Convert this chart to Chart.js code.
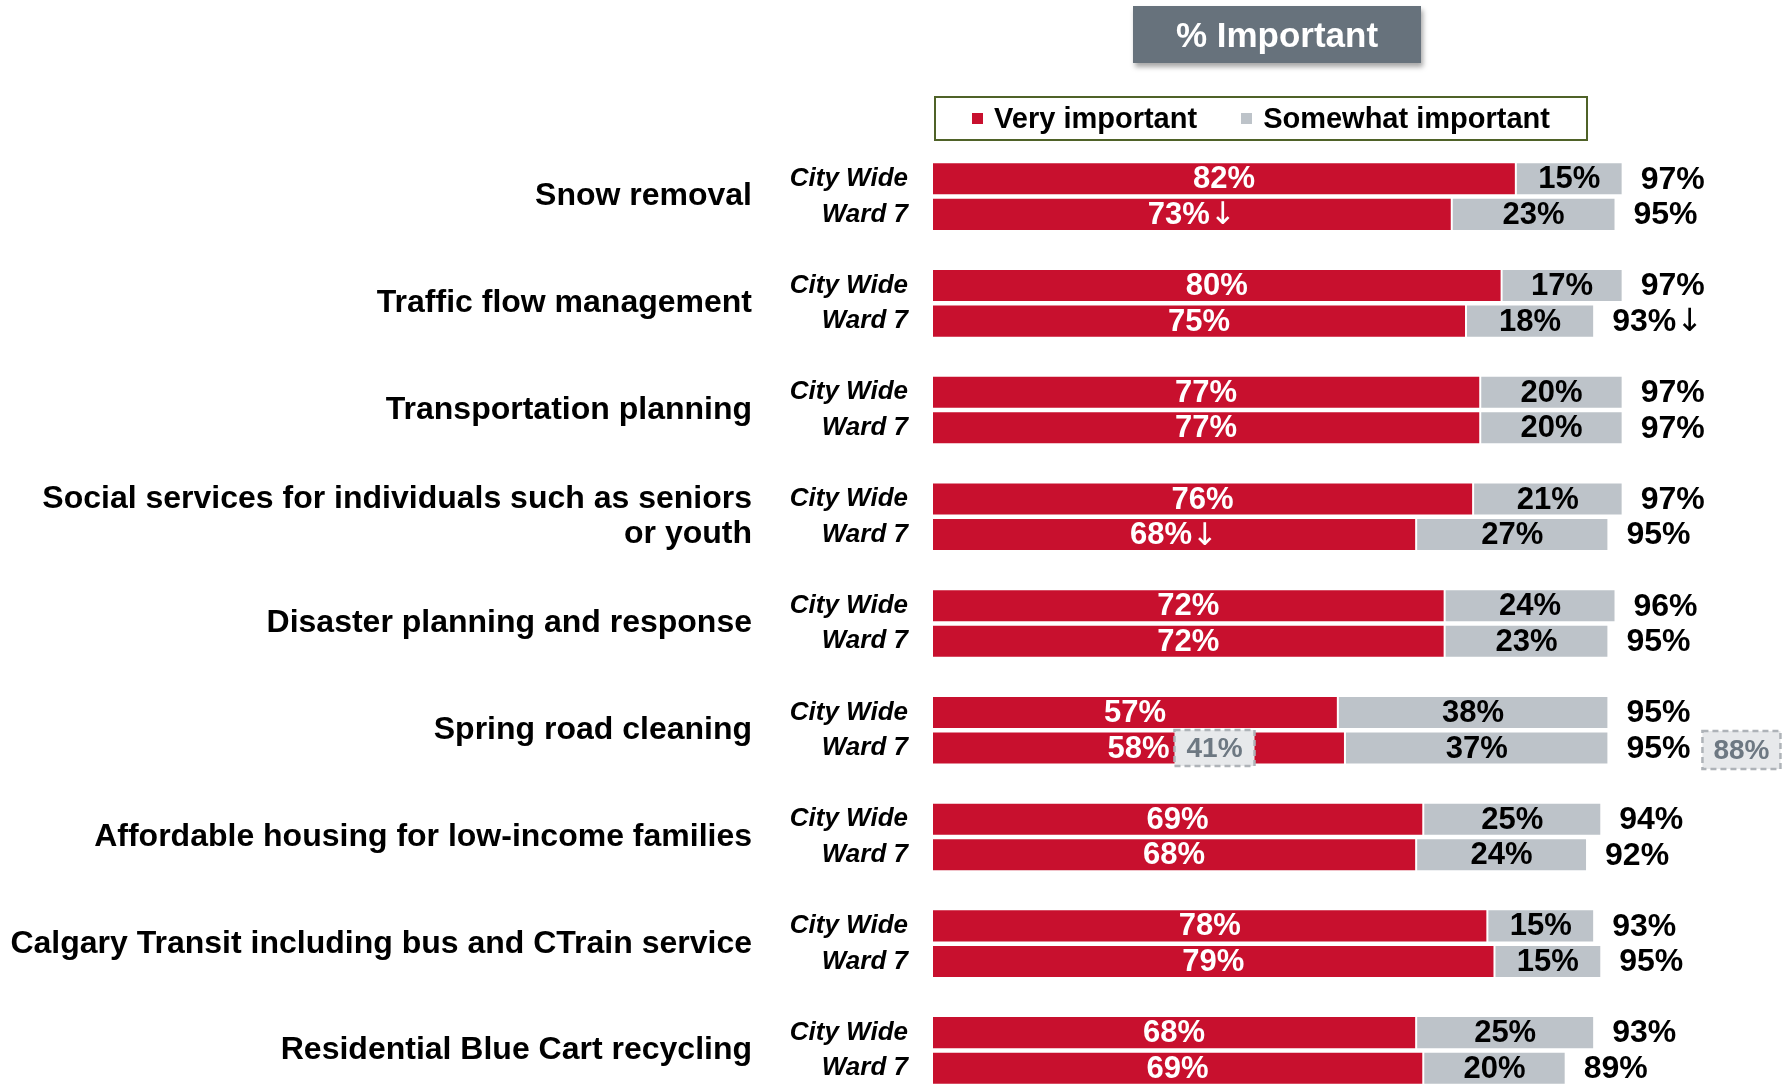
<!DOCTYPE html>
<html>
<head>
<meta charset="utf-8">
<script src="https://cdn.jsdelivr.net/npm/chart.js@4.4.1/dist/chart.umd.min.js"></script>
<style>
  body { margin: 0; background: #fff; font-family: "Liberation Sans", Arial, sans-serif; }
  .wrap { position: relative; width: 1787px; height: 1088px; }
  canvas { position: absolute; left: 0; top: 0; }
  .title {
    position: absolute; left: 1133px; top: 6px; width: 288px; height: 57px;
    background: #67727c; color: #fff; font-weight: bold; font-size: 35px;
    display: flex; align-items: center; justify-content: center;
    box-shadow: 2px 4px 5px rgba(0,0,0,0.35);
  }
  .legend {
    position: absolute; left: 934px; top: 96px; width: 650px; height: 41px;
    border: 2px solid #4f6228; display: flex; align-items: center; justify-content: center;
    gap: 44px; font-weight: bold; font-size: 29px; color: #000;
  }
  .legend .box { display: inline-block; width: 11px; height: 11px; margin-right: 11px; vertical-align: middle; position: relative; top: -2px; }
</style>
</head>
<body>
<div class="wrap">
  <canvas id="myChart" width="1787" height="1088"></canvas>
  <div class="title">% Important</div>
  <div class="legend" id="legend"></div>
</div>
<script>
const fontName = '"Liberation Sans", Arial, sans-serif';
const arrowFont = '"DejaVu Sans", sans-serif';

const groups = [
  'Snow removal',
  'Traffic flow management',
  'Transportation planning',
  'Social services for individuals such as seniors\nor youth',
  'Disaster planning and response',
  'Spring road cleaning',
  'Affordable housing for low-income families',
  'Calgary Transit including bus and CTrain service',
  'Residential Blue Cart recycling'
];
const rowNames = ['City Wide', 'Ward 7'];
const seriesNames = ['Very important', 'Somewhat important'];
const seriesColors = ['#c8102e', '#bdc3c9'];

// values
const cityWideVery = [82, 80, 77, 76, 72, 57, 69, 78, 68];
const cityWideSome = [15, 17, 20, 21, 24, 38, 25, 15, 25];
const cityWideTotal = [97, 97, 97, 97, 96, 95, 94, 93, 93];
const ward7Very = [73, 75, 77, 68, 72, 58, 68, 79, 69];
const ward7Some = [23, 18, 20, 27, 23, 37, 24, 15, 20];
const ward7Total = [95, 93, 97, 95, 95, 95, 92, 95, 89];
// significantly lower marks
const ward7VeryArrow = [true, false, false, true, false, false, false, false, false];
const ward7TotalArrow = [false, true, false, false, false, false, false, false, false];
// previous values shown in dashed boxes
const ward7VeryPrev = ['', '', '', '', '', '41%', '', '', ''];
const ward7TotalPrev = ['', '', '', '', '', '88%', '', '', ''];

// lay groups out as slots: City Wide, Ward 7, gap
const rowLabels = [];
const slotVery = [], slotSome = [], slotTotal = [];
const slotVeryMark = [], slotTotalMark = [], slotVeryPrev = [], slotTotalPrev = [];
groups.forEach((g, i) => {
  rowLabels.push(rowNames[0], rowNames[1]);
  slotVery.push(cityWideVery[i], ward7Very[i]);
  slotSome.push(cityWideSome[i], ward7Some[i]);
  slotTotal.push(cityWideTotal[i], ward7Total[i]);
  slotVeryMark.push(false, ward7VeryArrow[i]);
  slotTotalMark.push(false, ward7TotalArrow[i]);
  slotVeryPrev.push('', ward7VeryPrev[i]);
  slotTotalPrev.push('', ward7TotalPrev[i]);
  if (i < groups.length - 1) {
    rowLabels.push('');
    slotVery.push(null); slotSome.push(null); slotTotal.push(null);
    slotVeryMark.push(false); slotTotalMark.push(false); slotVeryPrev.push(''); slotTotalPrev.push('');
  }
});

// legend
const legendDiv = document.getElementById('legend');
legendDiv.innerHTML = seriesNames.map((n, i) =>
  `<div><span class="box" style="background:${seriesColors[i]}"></span>${n}</div>`).join('');

function dashedBox(ctx, x, y, w, h, text) {
  ctx.save();
  ctx.fillStyle = '#e7e9eb';
  ctx.fillRect(x, y, w, h);
  ctx.setLineDash([6, 4]);
  ctx.lineWidth = 2.5;
  ctx.strokeStyle = '#aeb3b8';
  ctx.strokeRect(x, y, w, h);
  ctx.fillStyle = '#6d7882';
  ctx.font = 'bold 28px ' + fontName;
  ctx.textAlign = 'center';
  ctx.textBaseline = 'middle';
  ctx.fillText(text, x + w / 2, y + h / 2 + 1);
  ctx.restore();
}

// draws "73%" plus an optional arrow, text starting at x; returns width
function numberWithArrow(ctx, text, arrow, x, y, size) {
  ctx.textAlign = 'left';
  ctx.font = 'bold ' + size + 'px ' + fontName;
  ctx.fillText(text, x, y);
  let w = ctx.measureText(text).width;
  if (arrow) {
    ctx.font = size + 'px ' + arrowFont;
    ctx.fillText('↓', x + w, y + 1);
    w += ctx.measureText('↓').width;
  }
  return w;
}
function measureNumber(ctx, text, arrow, size) {
  ctx.font = 'bold ' + size + 'px ' + fontName;
  let w = ctx.measureText(text).width;
  if (arrow) {
    ctx.font = size + 'px ' + arrowFont;
    w += ctx.measureText('↓').width;
  }
  return w;
}

const textPlugin = {
  id: 'barText',
  afterDatasetsDraw(chart) {
    const ctx = chart.ctx;
    const very = chart.getDatasetMeta(0).data;
    const some = chart.getDatasetMeta(1).data;
    const yScale = chart.scales.y;
    ctx.save();
    ctx.textBaseline = 'middle';
    slotVery.forEach((v, i) => {
      if (v === null) return;
      const r = very[i], g = some[i];
      // red segment label
      ctx.fillStyle = '#fff';
      const vText = v + '%';
      const vw = measureNumber(ctx, vText, slotVeryMark[i], 31);
      const cx = (r.x + r.base) / 2;
      numberWithArrow(ctx, vText, slotVeryMark[i], cx - vw / 2, r.y + 1, 31);
      if (slotVeryPrev[i]) {
        dashedBox(ctx, cx + vw / 2 + 5, r.y - 18, 80, 36, slotVeryPrev[i]);
      }
      // gray segment label
      ctx.fillStyle = '#000';
      ctx.font = 'bold 31px ' + fontName;
      ctx.textAlign = 'center';
      ctx.fillText(slotSome[i] + '%', (g.x + g.base) / 2, g.y + 1);
      // total
      const tText = slotTotal[i] + '%';
      const tw = numberWithArrow(ctx, tText, slotTotalMark[i], g.x + 18, g.y + 1, 32);
      if (slotTotalPrev[i]) {
        dashedBox(ctx, g.x + 18 + tw + 12, g.y - 17, 78, 38, slotTotalPrev[i]);
      }
    });
    // group names on the left
    ctx.font = 'bold 32px ' + fontName;
    ctx.fillStyle = '#000';
    ctx.textAlign = 'right';
    groups.forEach((name, gi) => {
      const yMid = (yScale.getPixelForValue(gi * 3) + yScale.getPixelForValue(gi * 3 + 1)) / 2;
      const lines = name.split('\n');
      const lh = 35;
      lines.forEach((ln, k) => {
        ctx.fillText(ln, 752, yMid + (k - (lines.length - 1) / 2) * lh);
      });
    });
    ctx.restore();
  }
};

const ctx = document.getElementById('myChart').getContext('2d');
const chart = new Chart(ctx, {
  type: 'bar',
  data: {
    labels: rowLabels,
    datasets: [
      { label: seriesNames[0], data: slotVery, backgroundColor: seriesColors[0] },
      { label: seriesNames[1], data: slotSome, backgroundColor: seriesColors[1] }
    ]
  },
  options: {
    indexAxis: 'y',
    responsive: false,
    animation: false,
    layout: { padding: { top: 161, bottom: 2, left: 0, right: 143 } },
    datasets: {
      bar: {
        categoryPercentage: 1,
        barPercentage: 0.93,
        borderWidth: 1,
        borderColor: '#fff',
        borderSkipped: false
      }
    },
    plugins: { legend: { display: false }, tooltip: { enabled: false } },
    scales: {
      x: { stacked: true, min: 0, max: 100, display: false },
      y: {
        stacked: true,
        grid: { display: false, drawTicks: false },
        border: { display: false },
        afterFit(scale) {
          scale.width = 932;
          scale.paddingTop = 0;
          scale.paddingBottom = 0;
        },
        ticks: {
          padding: 24,
          color: '#000',
          font: { family: fontName, size: 26, weight: 'bold', style: 'italic' }
        }
      }
    }
  },
  plugins: [textPlugin]
});
</script>
</body>
</html>
